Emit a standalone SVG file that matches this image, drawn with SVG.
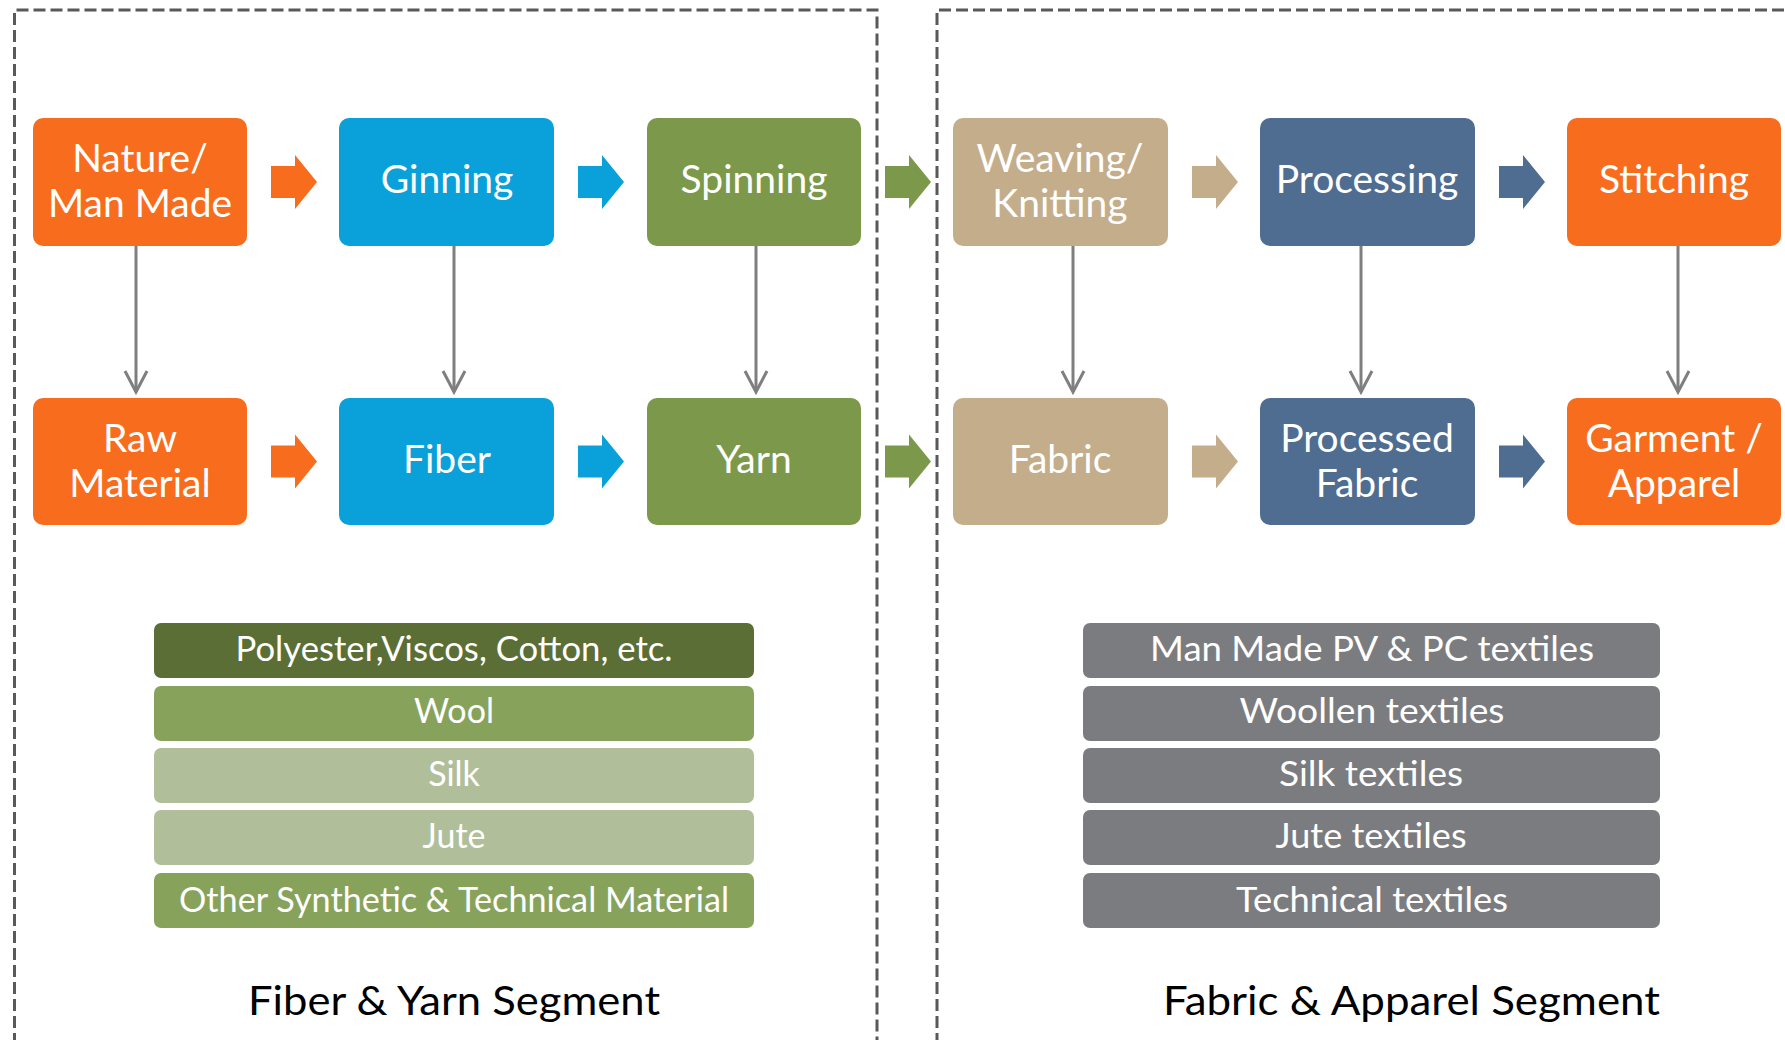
<svg xmlns="http://www.w3.org/2000/svg" xmlns:xlink="http://www.w3.org/1999/xlink" width="1785" height="1040" viewBox="0 0 1785 1040">
<style>
.frame{fill:none;stroke:#595959;stroke-width:3;stroke-dasharray:12 5}
.box{stroke:none}
.lbl{font-family:Lato,"Open Sans","DejaVu Sans",sans-serif;font-size:39px;fill:#ffffff;text-anchor:middle}
.lst{font-family:Lato,"Open Sans","DejaVu Sans",sans-serif;font-size:34px;fill:#ffffff;text-anchor:middle}
.ttl{font-family:Lato,"Open Sans","DejaVu Sans",sans-serif;font-size:41px;fill:#000000;text-anchor:middle}
.conn{stroke:#7f7f7f;stroke-width:3;fill:none}
.or{fill:#f86c1e}.bl{fill:#0aa1da}.gr{fill:#7c994b}.tn{fill:#c4ad8b}.sl{fill:#4f6c91}
</style>
<defs>
<path id="ba" d="M0,-16 H24 V-27 L46,0 L24,27 V16 H0 Z"/>
<marker id="vhead" markerWidth="26" markerHeight="26" refX="22" refY="13" orient="auto" markerUnits="userSpaceOnUse" viewBox="0 0 26 26">
<path d="M1,2 L22,13 L1,24" fill="none" stroke="#7f7f7f" stroke-width="3"/>
</marker>
</defs>
<rect width="1785" height="1040" fill="#ffffff"/>
<g id="frames">
<path class="frame" d="M14.5,1045 V10 H877 V1045"/>
<path class="frame" d="M937,1045 V10 H1795"/>
</g>
<g id="connectors">
<line class="conn" x1="136" y1="244" x2="136" y2="392" marker-end="url(#vhead)"/>
<line class="conn" x1="454" y1="244" x2="454" y2="392" marker-end="url(#vhead)"/>
<line class="conn" x1="756" y1="244" x2="756" y2="392" marker-end="url(#vhead)"/>
<line class="conn" x1="1073" y1="244" x2="1073" y2="392" marker-end="url(#vhead)"/>
<line class="conn" x1="1361" y1="244" x2="1361" y2="392" marker-end="url(#vhead)"/>
<line class="conn" x1="1678" y1="244" x2="1678" y2="392" marker-end="url(#vhead)"/>
<use href="#ba" x="271" y="182" class="or"/>
<use href="#ba" x="578" y="182" class="bl"/>
<use href="#ba" x="885" y="182" class="gr"/>
<use href="#ba" x="1192" y="182" class="tn"/>
<use href="#ba" x="1499" y="182" class="sl"/>
<use href="#ba" x="271" y="461.5" class="or"/>
<use href="#ba" x="578" y="461.5" class="bl"/>
<use href="#ba" x="885" y="461.5" class="gr"/>
<use href="#ba" x="1192" y="461.5" class="tn"/>
<use href="#ba" x="1499" y="461.5" class="sl"/>
</g>
<g id="n-nature"><rect class="box or" x="33" y="118" width="214" height="128" rx="10"/><text class="lbl" x="140" y="172">Nature/</text><text class="lbl" x="140" y="217">Man Made</text></g>
<g id="n-ginning"><rect class="box bl" x="339" y="118" width="215" height="128" rx="10"/><text class="lbl" x="447" y="193">Ginning</text></g>
<g id="n-spinning"><rect class="box gr" x="647" y="118" width="214" height="128" rx="10"/><text class="lbl" x="754" y="193">Spinning</text></g>
<g id="n-weaving"><rect class="box tn" x="953" y="118" width="215" height="128" rx="10"/><text class="lbl" x="1060" y="172">Weaving/</text><text class="lbl" x="1060" y="217">Knitting</text></g>
<g id="n-processing"><rect class="box sl" x="1260" y="118" width="215" height="128" rx="10"/><text class="lbl" x="1367" y="193">Processing</text></g>
<g id="n-stitching"><rect class="box or" x="1567" y="118" width="214" height="128" rx="10"/><text class="lbl" x="1674" y="193">Stitching</text></g>
<g id="n-raw"><rect class="box or" x="33" y="398" width="214" height="127" rx="10"/><text class="lbl" x="140" y="452">Raw</text><text class="lbl" x="140" y="497">Material</text></g>
<g id="n-fiber"><rect class="box bl" x="339" y="398" width="215" height="127" rx="10"/><text class="lbl" x="447" y="473">Fiber</text></g>
<g id="n-yarn"><rect class="box gr" x="647" y="398" width="214" height="127" rx="10"/><text class="lbl" x="754" y="473">Yarn</text></g>
<g id="n-fabric"><rect class="box tn" x="953" y="398" width="215" height="127" rx="10"/><text class="lbl" x="1060" y="473">Fabric</text></g>
<g id="n-processed"><rect class="box sl" x="1260" y="398" width="215" height="127" rx="10"/><text class="lbl" x="1367" y="452">Processed</text><text class="lbl" x="1367" y="497">Fabric</text></g>
<g id="n-garment"><rect class="box or" x="1567" y="398" width="214" height="127" rx="10"/><text class="lbl" x="1674" y="452">Garment /</text><text class="lbl" x="1674" y="497">Apparel</text></g>
<g id="fiber-list">
<rect x="154" y="623" width="600" height="55" rx="7" fill="#5a6e35"/><text class="lst" x="454" y="661" textLength="437" lengthAdjust="spacingAndGlyphs">Polyester,Viscos, Cotton, etc.</text>
<rect x="154" y="686" width="600" height="55" rx="7" fill="#87a35b"/><text class="lst" x="454" y="723">Wool</text>
<rect x="154" y="748" width="600" height="55" rx="7" fill="#b0bf9a"/><text class="lst" x="454" y="786">Silk</text>
<rect x="154" y="810" width="600" height="55" rx="7" fill="#b0bf9a"/><text class="lst" x="454" y="848">Jute</text>
<rect x="154" y="873" width="600" height="55" rx="7" fill="#87a35b"/><text class="lst" x="454" y="912" textLength="550" lengthAdjust="spacingAndGlyphs">Other Synthetic &amp; Technical Material</text>
</g>
<g id="fabric-list">
<rect x="1083" y="623" width="577" height="55" rx="7" fill="#7b7c80"/><text class="lst" x="1372" y="661" textLength="444" lengthAdjust="spacingAndGlyphs">Man Made PV &amp; PC textiles</text>
<rect x="1083" y="686" width="577" height="55" rx="7" fill="#7b7c80"/><text class="lst" x="1372" y="723" textLength="265" lengthAdjust="spacingAndGlyphs">Woollen textiles</text>
<rect x="1083" y="748" width="577" height="55" rx="7" fill="#7b7c80"/><text class="lst" x="1371" y="786" textLength="184" lengthAdjust="spacingAndGlyphs">Silk textiles</text>
<rect x="1083" y="810" width="577" height="55" rx="7" fill="#7b7c80"/><text class="lst" x="1371" y="848" textLength="191" lengthAdjust="spacingAndGlyphs">Jute textiles</text>
<rect x="1083" y="873" width="577" height="55" rx="7" fill="#7b7c80"/><text class="lst" x="1372" y="912" textLength="272" lengthAdjust="spacingAndGlyphs">Technical textiles</text>
</g>
<g id="titles">
<text class="ttl" x="454" y="1015" textLength="412" lengthAdjust="spacingAndGlyphs">Fiber &amp; Yarn Segment</text>
<text class="ttl" x="1411.5" y="1015" textLength="497" lengthAdjust="spacingAndGlyphs">Fabric &amp; Apparel Segment</text>
</g>
</svg>
